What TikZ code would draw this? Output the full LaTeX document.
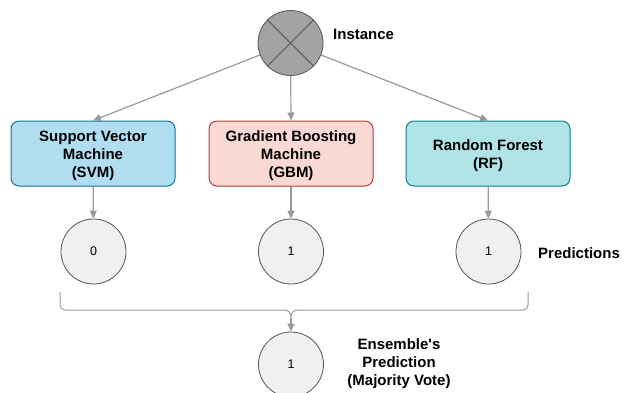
\documentclass[tikz,border=0pt]{standalone}
\usepackage{fontspec}
\setmainfont{Liberation Sans}
\usetikzlibrary{arrows.meta}
\definecolor{svmfill}{HTML}{B1DDF0}\definecolor{svmline}{HTML}{10739E}
\definecolor{gbmfill}{HTML}{FAD9D5}\definecolor{gbmline}{HTML}{AE4132}
\definecolor{rffill}{HTML}{B0E3E6}\definecolor{rfline}{HTML}{0E8088}
\definecolor{circfill}{HTML}{F0F0F0}\definecolor{circline}{HTML}{555555}
\definecolor{instfill}{HTML}{A3A3A3}\definecolor{arrowc}{HTML}{999999}
\begin{document}
\begin{tikzpicture}[x=1pt,y=-1pt,
  model/.style={draw, line width=1pt, rounded corners=8pt, minimum width=164pt, minimum height=65pt, inner sep=0pt},
  pred/.style={circle, draw=circline, fill=circfill, line width=0.8pt, minimum size=65pt, inner sep=0pt, font=\fontsize{12.5}{14}\selectfont},
  lbl/.style={align=center, font=\fontsize{15}{18}\selectfont\bfseries, inner sep=0pt},
  arr/.style={draw=arrowc, line width=1.2pt, -{Triangle[length=8pt,width=7pt]}}]
\useasboundingbox (0,0) rectangle (622,392);
\node[circle, draw=circline, fill=instfill, line width=0.8pt, minimum size=65pt, inner sep=0pt] (inst) at (290.5,43) {};
\draw[circline, line width=0.8pt] (inst.north west) -- (inst.south east) (inst.north east) -- (inst.south west);
\node[lbl, anchor=west] (instl) at (333,34) {Instance};
\node[model, draw=svmline, fill=svmfill] (svm) at (93,153.5) {};
\node[model, draw=gbmline, fill=gbmfill] (gbm) at (291,153.5) {};
\node[model, draw=rfline, fill=rffill] (rf) at (488,153.5) {};
\node[lbl] (svmt) at (93,156) {Support Vector\\Machine\\(SVM)};
\node[lbl] (gbmt) at (291,156) {Gradient Boosting\\Machine\\(GBM)};
\node[lbl] (rft) at (488,156) {Random Forest\\(RF)};
\node[pred] (p1) at (93.5,251.5) {0};
\node[pred] (p2) at (291,251.5) {1};
\node[pred] (p3) at (488.5,251.5) {1};
\node[lbl, anchor=west] (predl) at (538,253) {Predictions};
\node[pred] (ens) at (291,364.5) {1};
\node[lbl] (ensl) at (399,364) {Ensemble\textquotesingle s\\Prediction\\(Majority Vote)};
\draw[arr] (inst) -- (svm.north);
\draw[arr] (inst) -- (gbm.north);
\draw[arr] (inst) -- (rf.north);
\draw[arr] (svm) -- (p1);
\draw[arr] (gbm) -- (p2);
\draw[arr] (rf) -- (p3);
\coordinate (bl) at (60,292);
\coordinate (br) at (528,292);
\coordinate (bt) at (291,318);
\draw[arrowc, line width=1pt] (bl) -- (60,305) .. controls (60,308) and (62,310) .. (65,310) -- (284,310) .. controls (289,310) and (291,313) .. (bt) .. controls (291,313) and (293,310) .. (298,310) -- (523,310) .. controls (526,310) and (528,308) .. (528,305) -- (br);
\draw[arr] (bt) -- (ens);
\end{tikzpicture}
\end{document}
